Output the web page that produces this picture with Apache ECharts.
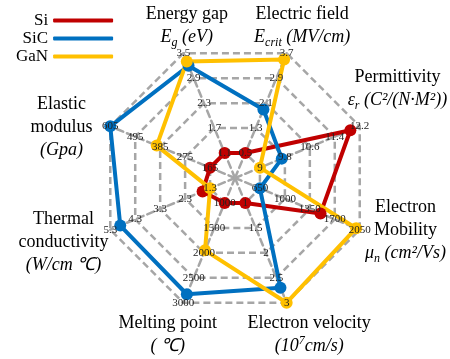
<!DOCTYPE html>
<html><head><meta charset="utf-8">
<script src="https://cdn.jsdelivr.net/npm/echarts@6/dist/echarts.min.js"></script>
<style>html,body{margin:0;padding:0;background:#fff}#c{width:450px;height:359px}</style>
</head><body><div id="c"></div>
<script>
// Indicators (counter-clockwise from upper-left vertex)
const indicatorNames = [
  '{n|Energy gap}\n{i|E}{sub|g}{i| (eV)}',
  'Elastic\nmodulus\n{i|(Gpa)}',
  'Thermal\nconductivity\n{i|(W/cm ℃)}',
  'Melting point\n{i|( ℃)}',
  'Electron velocity\n{i|(10}{sup|7}{i|cm/s)}',
  'Electron\nMobility\n{i|μ}{sub|n}{i| (cm²/Vs)}',
  'Permittivity\n{i|ε}{sub|r}{i| (C²/(N·M²))}',
  'Electric field\n{i|E}{sub|crit}{i| (MV/cm)}'
];
const indicatorMin = [0.5, 55, 0.3, 500, 0.5, 300, 8.2, -0.3];
const indicatorMax = [3.5, 605, 5.3, 3000, 3, 2050, 12.2, 3.7];
const seriesNames = ['Si', 'SiC', 'GaN'];
const siValues  = [1.1, 165, 1.6, 1000, 1.0, 1500, 11.9, 0.5];
const sicValues = [3.2, 605, 4.9, 2830, 2.7, 650, 9.7, 1.9];
const ganValues = [3.3, 400, 1.3, 1950, 3.0, 2000, 9.0, 3.5];

// layout / style only
const colors = ['#C00000', '#0070C0', '#FFC000'];
const namePadding = [[0,0,0,30],[24,42,0,0],[2,38,0,0],[8,8,0,0],[8,0,0,22],[0,0,22,36],[0,0,52,20],[0,0,0,8]];

const serif = 'Liberation Serif';
const indicators = indicatorNames.map((n, k) => ({
  name: n, min: indicatorMin[k], max: indicatorMax[k],
  nameTextStyle: { padding: namePadding[k] }
}));
const labelIndicators = indicatorNames.map((n, k) => ({ name: '', min: indicatorMin[k], max: indicatorMax[k] }));
const dash = { color: '#A6A6A6', width: 2.5, type: [7, 4] };
const common = { center: [235, 178], radius: 135, startAngle: 112.5, splitNumber: 5, shape: 'polygon' };

const chart = echarts.init(document.getElementById('c'), null, { renderer: 'canvas' });
chart.setOption({
  animation: false,
  backgroundColor: '#fff',
  legend: {
    orient: 'vertical', left: 11, top: 7, align: 'right',
    itemWidth: 60, itemHeight: 4, itemGap: 1, icon: 'roundRect',
    data: seriesNames,
    textStyle: { fontFamily: serif, fontSize: 17, color: '#000', lineHeight: 17 }
  },
  radar: [
    Object.assign({}, common, {
      indicator: indicators,
      nameGap: 30,
      axisName: {
        color: '#000', fontFamily: serif, fontSize: 18, lineHeight: 23,
        align: 'center', verticalAlign: 'middle',
        rich: {
          n: { fontFamily: serif, fontSize: 18, color: '#000' },
          i: { fontFamily: serif, fontSize: 18, fontStyle: 'italic', color: '#000' },
          sub: { fontFamily: serif, fontSize: 12, fontStyle: 'italic', color: '#000', verticalAlign: 'bottom', lineHeight: 17 },
          sup: { fontFamily: serif, fontSize: 12, fontStyle: 'italic', color: '#000', verticalAlign: 'top', lineHeight: 17 }
        }
      },
      splitLine: { lineStyle: dash },
      axisLine: { lineStyle: dash },
      splitArea: { show: false },
      axisLabel: { show: false },
      z: 0
    }),
    Object.assign({}, common, {
      indicator: labelIndicators,
      axisName: { show: false },
      splitLine: { show: false },
      axisLine: { show: false },
      axisTick: { show: false },
      splitArea: { show: false },
      axisLabel: {
        show: true, margin: 0, align: 'center', verticalAlign: 'middle',
        fontFamily: serif, fontSize: 11, color: '#222',
        formatter: (v, i) => (i === 0 ? '' : String(v))
      },
      z: 10
    })
  ],
  series: [siValues, sicValues, ganValues].map((vals, k) => ({
    type: 'radar', name: seriesNames[k], radarIndex: 0,
    symbol: 'circle', symbolSize: 12,
    color: colors[k],
    lineStyle: { width: 4, color: colors[k] },
    itemStyle: { color: colors[k] },
    data: [{ value: vals, name: seriesNames[k] }]
  }))
});
</script></body></html>
